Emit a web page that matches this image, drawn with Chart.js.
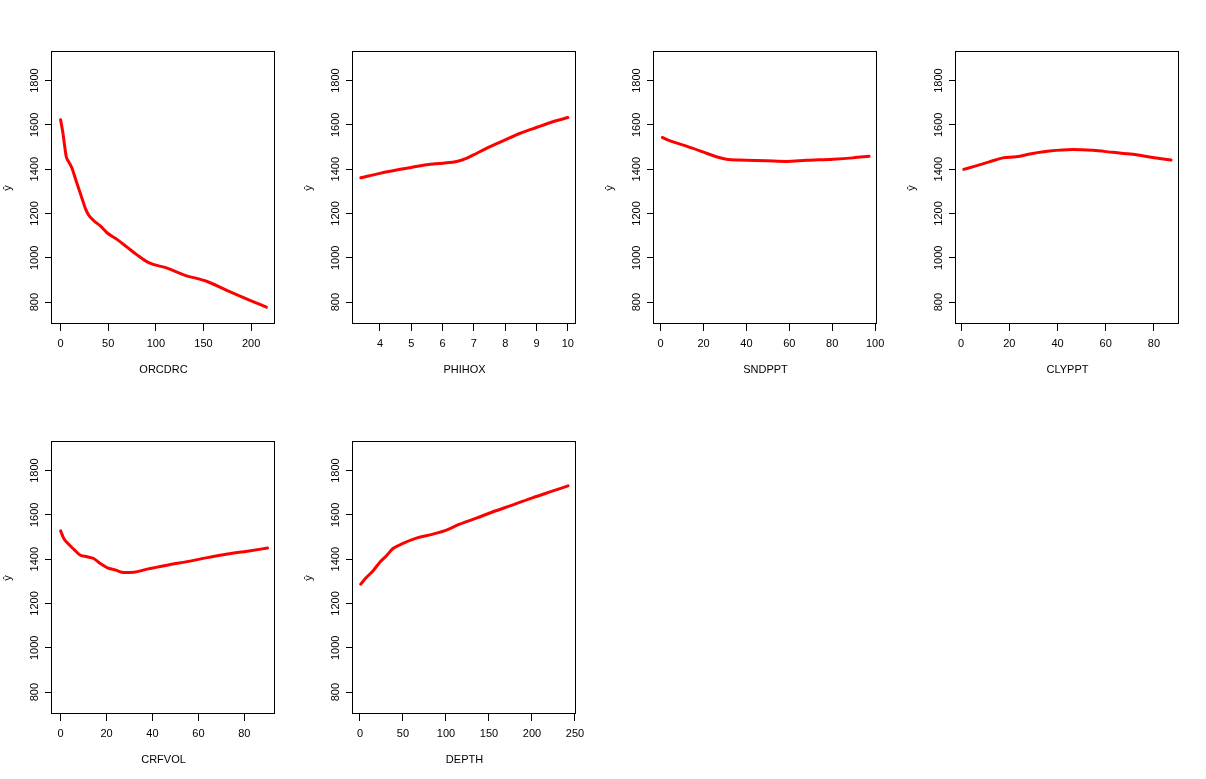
<!DOCTYPE html>
<html>
<head>
<meta charset="utf-8">
<script src="https://cdn.jsdelivr.net/npm/chart.js@4.4.0/dist/chart.umd.min.js"></script>
<style>
  body { margin: 0; background: #fff; width: 1206px; height: 779px; overflow: hidden; position: relative; }
  canvas { position: absolute; }
</style>
</head>
<body>
<script>
  // partial dependence curves
  const orcdrcX = [0, 2.5, 3.9, 6, 8.4, 12, 15.4, 18.9, 22.5, 26, 29.4, 34.7, 41.7, 48.7, 59.2, 69.7, 80.2, 92.4, 111.8, 129.2, 153.8, 175, 199.3, 216];
  const orcdrcY = [1623, 1562, 1517, 1456, 1434, 1404, 1359, 1314, 1268, 1223, 1193, 1168, 1144, 1113, 1083, 1048, 1013, 978, 953, 923, 893, 852, 807, 777];

  const phihoxX = [3.39, 4, 4.53, 5.0, 5.49, 6.02, 6.45, 6.76, 6.97, 7.40, 7.98, 8.46, 8.99, 9.52, 10.0];
  const phihoxY = [1361, 1381, 1396, 1408, 1420, 1427, 1435, 1449, 1463, 1494, 1531, 1561, 1588, 1614, 1633];

  const sndpptX = [0.8, 5.8, 12, 19.7, 26, 30.7, 36.9, 49.3, 58.7, 68, 80.4, 89.7, 97.2];
  const sndpptY = [1543, 1523, 1504, 1478, 1456, 1445, 1441, 1438, 1435, 1440, 1445, 1451, 1458];

  const clypptX = [1.1, 6.2, 11.7, 17.3, 22.8, 29.7, 36.6, 46.3, 54.6, 62.9, 71.2, 79.5, 87.1];
  const clypptY = [1399, 1415, 1433, 1451, 1456, 1471, 1482, 1489, 1485, 1476, 1467, 1453, 1441];

  const crfvolX = [0, 1.3, 2.8, 5.7, 8.6, 11.5, 14.4, 17.3, 20.2, 23.9, 27.5, 31.9, 37.7, 46.4, 55.1, 63.9, 72.6, 81.3, 90.1];
  const crfvolY = [1528, 1495, 1475, 1445, 1418, 1411, 1403, 1380, 1362, 1351, 1340, 1341, 1355, 1373, 1389, 1407, 1423, 1436, 1450];

  const depthX = [0.8, 7.4, 15.1, 22.9, 30.7, 38.4, 50, 65.6, 84.9, 100.5, 116, 135.3, 154.7, 178, 201.2, 224.4, 241.9];
  const depthY = [1287, 1317, 1347, 1385, 1415, 1448, 1471, 1495, 1513, 1531, 1558, 1585, 1614, 1645, 1678, 1708, 1731];

  // tick labels
  const orcdrcTicks = [0, 50, 100, 150, 200];
  const phihoxTicks = [4, 5, 6, 7, 8, 9, 10];
  const sndpptTicks = [0, 20, 40, 60, 80, 100];
  const clypptTicks = [0, 20, 40, 60, 80];
  const crfvolTicks = [0, 20, 40, 60, 80];
  const depthTicks = [0, 50, 100, 150, 200, 250];
  const yTicks = [800, 1000, 1200, 1400, 1600, 1800];

  // axis ranges
  const orcdrcRange = [-9, 225];
  const phihoxRange = [3.14, 10.26];
  const sndpptRange = [-3.1, 100.9];
  const clypptRange = [-2.1, 90.4];
  const crfvolRange = [-3.75, 93.35];
  const depthRange = [-8.1, 251.2];
  const yRange = [701, 1929];

  const panels = [
    { name: 'ORCDRC', xs: orcdrcX, ys: orcdrcY, ticks: orcdrcTicks, range: orcdrcRange },
    { name: 'PHIHOX', xs: phihoxX, ys: phihoxY, ticks: phihoxTicks, range: phihoxRange },
    { name: 'SNDPPT', xs: sndpptX, ys: sndpptY, ticks: sndpptTicks, range: sndpptRange },
    { name: 'CLYPPT', xs: clypptX, ys: clypptY, ticks: clypptTicks, range: clypptRange },
    { name: 'CRFVOL', xs: crfvolX, ys: crfvolY, ticks: crfvolTicks, range: crfvolRange },
    { name: 'DEPTH', xs: depthX, ys: depthY, ticks: depthTicks, range: depthRange }
  ];

  // layout of the plot boxes
  const colLeft = [52, 353, 654, 956];
  const rowTop = [52, 442];
  const boxW = 223, boxH = 272;
  const padL = 52, padT = 52, padR = 25, padB = 66;
  const font = { family: '"Liberation Sans", Arial, sans-serif', size: 11 };

  // box around the plot + rotated y tick labels (R style)
  const rBox = {
    id: 'rBox',
    afterDraw(chart) {
      const ctx = chart.ctx, a = chart.chartArea, ys = chart.scales.y;
      ctx.save();
      ctx.strokeStyle = '#000';
      ctx.lineWidth = 1;
      ctx.strokeRect(a.left - 0.5, a.top - 0.5, a.width, a.height);
      ctx.fillStyle = '#000';
      ctx.font = font.size + 'px ' + font.family;
      ctx.textAlign = 'center';
      ctx.textBaseline = 'middle';
      ys.ticks.forEach(t => {
        ctx.save();
        ctx.translate(a.left - 17, ys.getPixelForValue(t.value));
        ctx.rotate(-Math.PI / 2);
        ctx.fillText(String(t.value), 0, 0);
        ctx.restore();
      });
      ctx.restore();
    }
  };

  panels.forEach((p, i) => {
    const col = i % 4, row = Math.floor(i / 4);
    const w = padL + boxW + padR, h = padT + boxH + padB;
    const cv = document.createElement('canvas');
    cv.width = w;
    cv.height = h;
    cv.style.width = w + 'px';
    cv.style.height = h + 'px';
    cv.style.left = (colLeft[col] - padL) + 'px';
    cv.style.top = (rowTop[row] - padT) + 'px';
    document.body.appendChild(cv);

    new Chart(cv, {
      type: 'line',
      data: {
        datasets: [{
          data: p.xs.map((x, k) => ({ x: x, y: p.ys[k] })),
          borderColor: '#ff0000',
          borderWidth: 3,
          pointRadius: 0,
          fill: false,
          cubicInterpolationMode: 'monotone',
          borderCapStyle: 'round',
          borderJoinStyle: 'round'
        }]
      },
      options: {
        responsive: false,
        animation: false,
        devicePixelRatio: 1,
        layout: { padding: { top: padT, right: padR, left: 0, bottom: 0 } },
        plugins: { legend: { display: false }, tooltip: { enabled: false } },
        scales: {
          x: {
            type: 'linear',
            min: p.range[0],
            max: p.range[1],
            afterBuildTicks: s => { s.ticks = p.ticks.map(v => ({ value: v })); },
            afterFit: s => { s.height = padB; },
            grid: { drawOnChartArea: false, drawTicks: true, tickLength: 7, color: '#000' },
            border: { display: false },
            ticks: { color: '#000', padding: 6, font: font, maxRotation: 0, autoSkip: false },
            title: { display: true, text: p.name, color: '#000', font: font, padding: { top: 4, bottom: 13 } }
          },
          y: {
            type: 'linear',
            min: yRange[0],
            max: yRange[1],
            afterBuildTicks: s => { s.ticks = yTicks.map(v => ({ value: v })); },
            afterFit: s => { s.width = padL; },
            grid: { drawOnChartArea: false, drawTicks: true, tickLength: 7, color: '#000' },
            border: { display: false },
            ticks: { display: false },
            title: { display: true, text: 'ŷ', color: '#000', font: font, padding: { top: 1, bottom: 4 } }
          }
        }
      },
      plugins: [rBox]
    });
  });
</script>
</body>
</html>
